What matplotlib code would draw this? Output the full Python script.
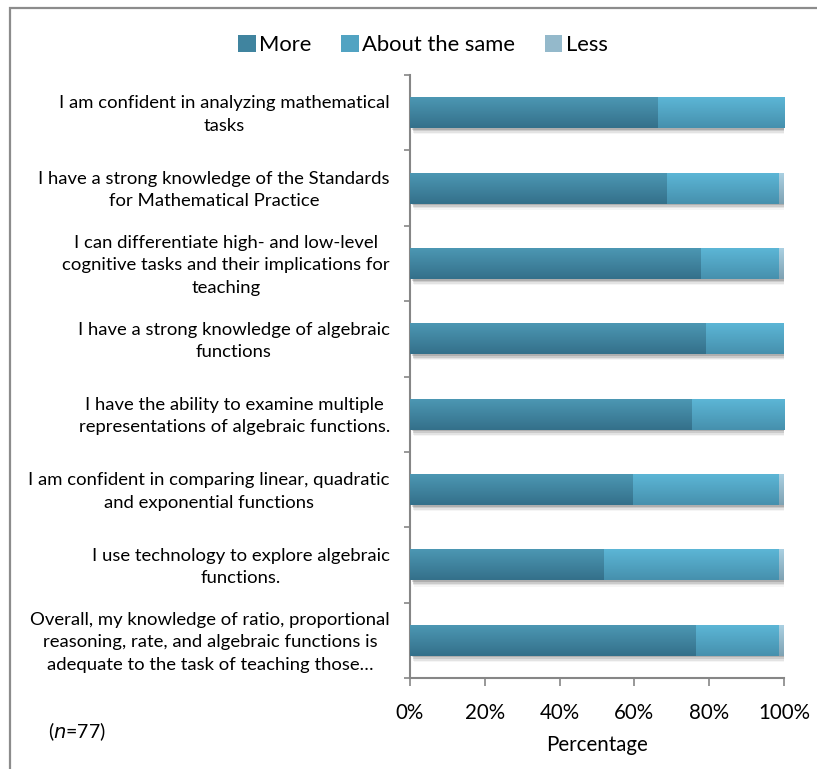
import numpy as np
import matplotlib
matplotlib.use("Agg")
import matplotlib.pyplot as plt
from matplotlib.patches import Rectangle, Patch
import matplotlib.patheffects as pe
import matplotlib.colors as mcolors
import matplotlib.transforms as mtransforms
from matplotlib.ticker import FuncFormatter, FixedLocator

# Survey statements (top to bottom) and response shares in percent
statements = [
    "I am confident in analyzing mathematical\ntasks",
    "I have a strong knowledge of the Standards\nfor Mathematical Practice",
    "I can differentiate high- and low-level\ncognitive tasks and their implications for\nteaching",
    "I have a strong knowledge of algebraic\nfunctions",
    "I have the ability to examine multiple\nrepresentations of algebraic functions.",
    "I am confident in comparing linear, quadratic\nand exponential functions",
    "I use technology to explore algebraic\nfunctions.",
    "Overall, my knowledge of ratio, proportional\nreasoning, rate, and algebraic functions is\nadequate to the task of teaching those\u2026",
]
more = [66.2, 68.8, 77.9, 79.2, 75.3, 59.7, 51.9, 76.6]
about_same = [33.8, 29.9, 20.8, 20.8, 24.7, 39.0, 46.8, 22.1]
less = [0.0, 1.3, 1.3, 0.0, 0.0, 1.3, 1.3, 1.3]
series_names = ["More", "About the same", "Less"]
x_ticks = [0, 20, 40, 60, 80, 100]

# light (top) / dark (bottom) gradient colours per series
grad = {
    "More": ("#4c97b3", "#34708a"),
    "About the same": ("#5cb6d6", "#4690ad"),
    "Less": ("#aad0e2", "#7ea2b3"),
}

FONT = "Lato"
plt.rcParams["font.family"] = [FONT, "DejaVu Sans"]

W, H = 817, 769
fig = plt.figure(figsize=(W / 100, H / 100), dpi=100)
ax = fig.add_axes([410 / W, 1 - 678 / H, (784 - 410) / W, (678 - 75) / H])

n = len(statements)
ypos = np.arange(n)[::-1]  # first statement on top
bar_h = 0.41

shadow = [
    pe.SimplePatchShadow(offset=(1.2, -1.2), shadow_rgbFace="#000000", alpha=0.14),
    pe.SimplePatchShadow(offset=(1.8, -2.4), shadow_rgbFace="#000000", alpha=0.10),
    pe.SimplePatchShadow(offset=(2.3, -3.5), shadow_rgbFace="#000000", alpha=0.07),
    pe.SimplePatchShadow(offset=(2.8, -4.4), shadow_rgbFace="#000000", alpha=0.04),
    pe.Normal(),
]

left = np.zeros(n)
for name, vals in zip(series_names, [more, about_same, less]):
    vals = np.asarray(vals, dtype=float)
    top_c, bot_c = grad[name]
    bars = ax.barh(ypos, vals, left=left, height=bar_h, color=bot_c,
                   edgecolor="none", zorder=2)
    t = np.linspace(0, 1, 64)[:, None]
    c0 = np.array(mcolors.to_rgb(bot_c))
    c1 = np.array(mcolors.to_rgb(top_c))
    img = (c0[None, None, :] * (1 - t[..., None]) + c1[None, None, :] * t[..., None])
    for b, v in zip(bars, vals):
        if v <= 0:
            b.set_visible(False)
            continue
        b.set_path_effects(shadow)
        x0, y0 = b.get_x(), b.get_y()
        im = ax.imshow(img, extent=(x0, x0 + b.get_width(), y0, y0 + b.get_height()),
                       origin="lower", aspect="auto", interpolation="bilinear", zorder=3)
        im.set_clip_path(b)
    left += vals

ax.set_xlim(0, 100)
ax.set_ylim(-0.5, n - 0.5)

# axes styling
axis_col = "#868686"
for s in ["top", "right"]:
    ax.spines[s].set_visible(False)
for s in ["left", "bottom"]:
    ax.spines[s].set_color(axis_col)
    ax.spines[s].set_linewidth(1.5)

ax.set_xticks(x_ticks)
ax.xaxis.set_major_formatter(FuncFormatter(lambda v, p: f"{v:.0f}%"))
ax.tick_params(axis="x", direction="out", length=5.8, width=1.2, color=axis_col,
               pad=12, labelsize=14.8, labelcolor="black")

# category labels: centred multi-line text right-aligned against the axis
ax.set_yticks([])
ax.yaxis.set_minor_locator(FixedLocator(np.arange(-0.5, n, 1.0)))
ax.tick_params(axis="y", which="minor", direction="out", length=4.3, width=1.2, color=axis_col)
lab_tr = mtransforms.blended_transform_factory(ax.transAxes, ax.transData) + \
    mtransforms.ScaledTranslation(-20 / 100, -2 / 100, fig.dpi_scale_trans)
for y, s in zip(ypos, statements):
    ax.text(0, y, s, transform=lab_tr, ha="right", va="center", multialignment="center",
            fontsize=13.3, linespacing=1.5)

ax.set_xlabel("Percentage", fontsize=14.8, labelpad=9)

# legend
def mid(c):
    a, b = (np.array(mcolors.to_rgb(x)) for x in c)
    return tuple((a + b) / 2)

handles = [Patch(facecolor=mid(grad[nm]), edgecolor="none") for nm in series_names]
fig.legend(handles, series_names, loc="center", bbox_to_anchor=(423 / W, 1 - 45 / H),
           ncol=3, frameon=False, fontsize=15.8, handlelength=0.8, handleheight=0.8,
           handletextpad=0.15, columnspacing=1.35)

fig.text(48 / W, 1 - 732 / H, r"($\it{n}$=77)", fontsize=14, va="center", ha="left")

# outer frame of the chart area
fig.patches.append(Rectangle((10 / W, -0.1), 1.2, 1 - 8 / H + 0.1, transform=fig.transFigure,
                             fill=False, edgecolor="#8c8c8c", linewidth=1.6, zorder=0))

fig.savefig("out.png", dpi=100)
